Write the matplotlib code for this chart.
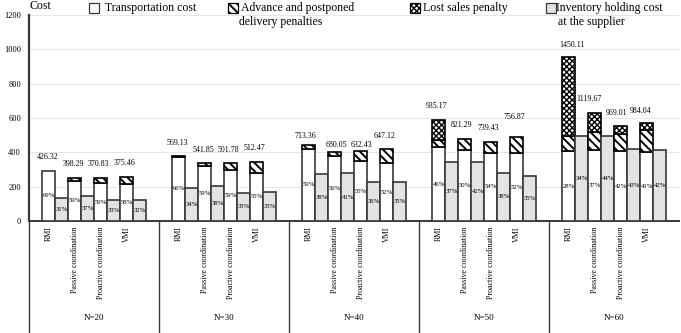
import matplotlib
matplotlib.use("Agg")
import matplotlib.pyplot as plt
from matplotlib.patches import Rectangle
import matplotlib.transforms as mtransforms

plt.rcParams['font.family'] = ['Liberation Serif', 'DejaVu Serif']
plt.rcParams['hatch.linewidth'] = 1.4

groups = ['N=20', 'N=30', 'N=40', 'N=50', 'N=60']
strategies = ['RMI', 'Passive coordination', 'Proactive coordination', 'VMI']
totals = [[426.32, 398.29, 370.83, 375.46],
          [569.13, 541.85, 501.78, 512.47],
          [713.36, 680.05, 632.43, 647.12],
          [935.17, 821.29, 739.43, 756.87],
          [1450.11, 1119.67, 969.01, 984.04]]
transport = [[294, 235, 219, 218],
             [373, 320, 296, 282],
             [421, 381, 348, 337],
             [430, 411, 399, 394],
             [406, 414, 407, 403]]
advance = [[0, 16, 30, 37],
           [4, 16, 40, 61],
           [21, 20, 57, 84],
           [42, 65, 59, 98],
           [88, 103, 97, 130]]
lost_sales = [[0, 0, 0, 0],
              [0, 0, 0, 0],
              [0, 0, 0, 0],
              [117, 0, 0, 0],
              [463, 110, 48, 38]]
holding = [[132, 147, 122, 120],
           [192, 206, 166, 169],
           [271, 279, 228, 227],
           [346, 345, 281, 265],
           [493, 493, 417, 413]]
trans_pct = [[69, 59, 59, 58],
             [66, 59, 59, 55],
             [59, 56, 55, 52],
             [46, 50, 54, 52],
             [28, 37, 42, 41]]
hold_pct = [[31, 37, 33, 32],
            [34, 38, 33, 33],
            [38, 41, 36, 35],
            [37, 42, 38, 35],
            [34, 44, 43, 42]]
yticks = [0, 200, 400, 600, 800, 1000, 1200]

# label offsets in pixels (style only)
label_off = [[(-1, 14), (-1, 14), (-2, 14), (-2, 14)],
             [(-1, 13), (-1, 13), (-2, 13), (-2, 14)],
             [(-3, 9), (2, 7), (1, 6), (-2, 13)],
             [(-2, 14), (-3, 14), (-2, 14), (-2, 20)],
             [(3, 12), (-6, 14), (-4, 13), (-6, 12)]]

W, H = 681, 333
fig = plt.figure(figsize=(W / 100, H / 100), dpi=100)
ax = fig.add_axes([29.3 / W, (H - 221) / H, 650 / W, 206 / H])
ax.set_xlim(0, 25)
ax.set_ylim(0, 1200)

EC = '#383838'
GRAY = '#e3e3e3'
LOST_HATCH = 'xxxxxx'
ADV_HATCH = '\\\\\\\\'
bw = 0.5
nG = len(groups)
nS = len(strategies)
xt, xl = [], []
for g in range(nG):
    for k in range(nS):
        xw = 5 * g + k + 0.75
        xg = xw + 0.5
        t = transport[g][k]
        a = advance[g][k]
        l = lost_sales[g][k]
        h = holding[g][k]
        ax.bar(xw, t, bw, color='white', edgecolor=EC, linewidth=1.2, zorder=3)
        if a > 0:
            ax.bar(xw, a, bw, bottom=t, color='white', edgecolor='black',
                   hatch=ADV_HATCH, linewidth=1.2, zorder=3)
        if l > 0:
            bars = ax.bar(xw, l, bw, bottom=t + a, color='white', edgecolor='black',
                          hatch=LOST_HATCH, linewidth=1.2, zorder=3)
            for p in bars:
                try:
                    p.set_hatch_linewidth(1.0)
                except Exception:
                    pass
        ax.bar(xg, h, bw, color=GRAY, edgecolor=EC, linewidth=1.2, zorder=3)
        ax.text(xw, t / 2, f'{trans_pct[g][k]}%', ha='center', va='center',
                fontsize=4.8, zorder=4)
        ax.text(xg, h / 2, f'{hold_pct[g][k]}%', ha='center', va='center',
                fontsize=4.8, zorder=4)
        dx, dy = label_off[g][k]
        ax.annotate(f'{totals[g][k]:.2f}', (xw, t + a + l), xytext=(dx, dy),
                    textcoords='offset pixels', ha='center', va='center',
                    fontsize=5.7, zorder=5)
        xt.append(xw)
        xl.append(strategies[k])

ax.set_xticks(xt)
ax.set_xticklabels(xl, rotation=90, fontsize=5.8, va='top', ha='center')
ax.tick_params(axis='x', length=0, pad=4)
ax.set_yticks(yticks)
ax.set_yticklabels([str(v) for v in yticks], fontsize=6)
ax.tick_params(axis='y', length=0, pad=6)
ax.grid(axis='y', color='#e6e6e6', linewidth=0.7, zorder=0)
ax.set_axisbelow(True)
for s in ['top', 'right']:
    ax.spines[s].set_visible(False)
ax.spines['left'].set_color(EC)
ax.spines['left'].set_linewidth(1.6)
ax.spines['bottom'].set_color(EC)
ax.spines['bottom'].set_linewidth(1.4)

trans = mtransforms.blended_transform_factory(ax.transData, ax.transAxes)
ybot = (221 - H) / 206
for g in range(nG):
    ax.plot([5 * g, 5 * g], [0, ybot], transform=trans, color=EC, lw=1.0,
            clip_on=False, zorder=5)
    ax.text(5 * g + 2.5, (221 - 318) / 206, groups[g], transform=trans,
            ha='center', va='center', fontsize=6.5)

# axis label and legend
fig.text(30 / W, 1 - 6 / H, 'Cost', fontsize=8.5, ha='left', va='center')

def leg_box(x, hatch=None, fc='white', hlw=None):
    r = Rectangle((x / W, 1 - 13 / H), 10 / W, 10 / H, transform=fig.transFigure,
                  facecolor=fc, edgecolor='black' if hatch else EC, hatch=hatch,
                  linewidth=0.9)
    if hlw is not None:
        try:
            r.set_hatch_linewidth(hlw)
        except Exception:
            pass
    fig.patches.append(r)

leg_box(89)
fig.text(105 / W, 1 - 8 / H, 'Transportation cost', fontsize=8.5, va='center')
leg_box(228, hatch=ADV_HATCH)
fig.text(241 / W, 1 - 8 / H, 'Advance and postponed', fontsize=8.5, va='center')
fig.text(239 / W, 1 - 22 / H, 'delivery penalties', fontsize=8.5, va='center')
leg_box(410, hatch=LOST_HATCH, hlw=1.0)
fig.text(423 / W, 1 - 8 / H, 'Lost sales penalty', fontsize=8.5, va='center')
leg_box(546, fc=GRAY)
fig.text(556 / W, 1 - 8 / H, 'Inventory holding cost', fontsize=8.5, va='center')
fig.text(558 / W, 1 - 22 / H, 'at the supplier', fontsize=8.5, va='center')

fig.savefig('out.png', dpi=100)
